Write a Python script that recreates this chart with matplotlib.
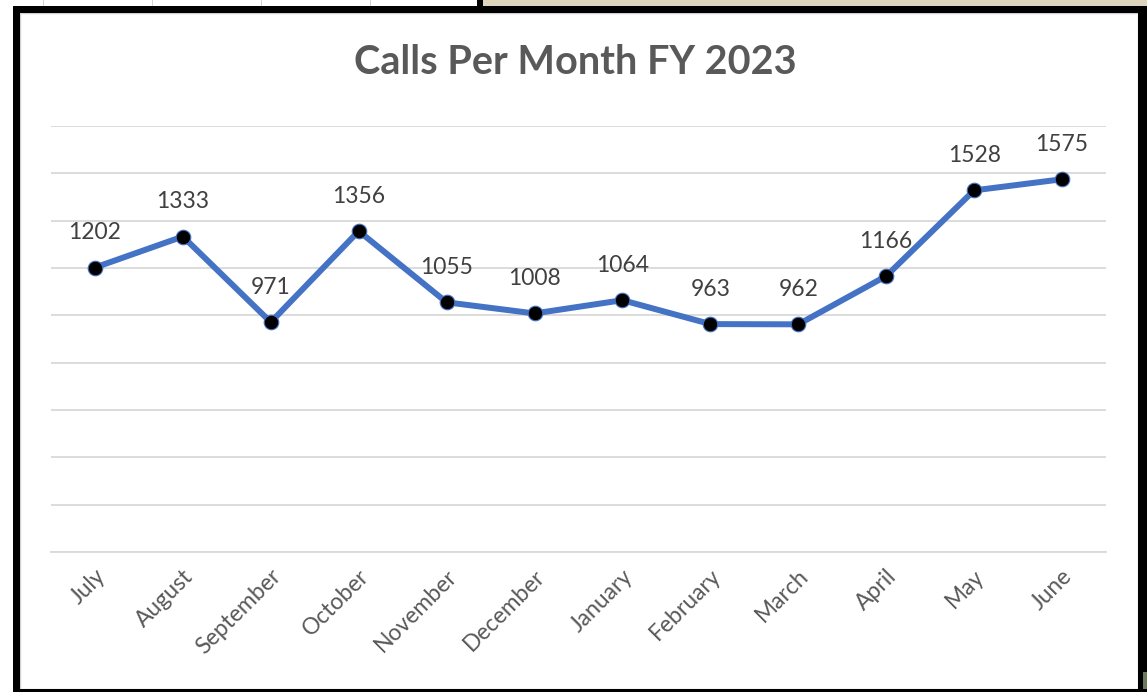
import matplotlib
matplotlib.use("Agg")
import matplotlib.pyplot as plt
from matplotlib.patches import Rectangle
import matplotlib.transforms as mtransforms

# ---- data ----
months = ["July", "August", "September", "October", "November", "December",
          "January", "February", "March", "April", "May", "June"]
calls = [1202, 1333, 971, 1356, 1055, 1008, 1064, 963, 962, 1166, 1528, 1575]
title = "Calls Per Month FY 2023"
y_max = 1800
y_step = 200

W, H = 1147, 692
fig = plt.figure(figsize=(W / 100, H / 100), dpi=100)
fig.patch.set_facecolor("white")

FONT = ["Lato", "DejaVu Sans"]


def px_rect(x0, y0, x1, y1, **kw):
    """Rectangle in pixel coordinates (origin top-left)."""
    r = Rectangle((x0 / W, 1 - y1 / H), (x1 - x0) / W, (y1 - y0) / H,
                  transform=fig.transFigure, **kw)
    fig.patches.append(r)
    return r


# ---- surrounding screenshot decoration ----
px_rect(0, 0, W, H, facecolor="white", edgecolor="none", zorder=0)
for gx in (43, 152, 261, 370):
    px_rect(gx, 0, gx + 1, 8, facecolor="#d4d4d4", edgecolor="none", zorder=1)
px_rect(483, 0, W, 8, facecolor="#ddd5bc", edgecolor="none", zorder=1)
px_rect(13, 6, W, 13, facecolor="black", edgecolor="none", zorder=2)      # top
px_rect(13, 6, 20, H, facecolor="black", edgecolor="none", zorder=2)      # left
px_rect(1138, 6, W, H, facecolor="black", edgecolor="none", zorder=2)     # right
px_rect(13, 689, W, H, facecolor="black", edgecolor="none", zorder=2)     # bottom
px_rect(477, 0, 483, 13, facecolor="black", edgecolor="none", zorder=2)   # tab notch
px_rect(1143, 672, W, 689, facecolor="#6a7a5a", edgecolor="none", zorder=3)
px_rect(20, 13, 1138, 689, facecolor="white", edgecolor="#d0d0d0", lw=1.0, zorder=1.5)

# ---- chart axes ----
x_left, x_right = 51, 1106
y_top, y_bot = 126, 552
ax = fig.add_axes([x_left / W, 1 - y_bot / H, (x_right - x_left) / W, (y_bot - y_top) / H])
ax.set_facecolor("none")
ax.set_zorder(5)

x = list(range(len(months)))
ax.plot(x, calls, color="#4472C4", lw=4.3, solid_joinstyle="round",
        solid_capstyle="round", marker="o", ms=10.5, mfc="black",
        mec="#4472C4", mew=0.8, zorder=4)

for xi, v in zip(x, calls):
    ax.annotate(str(v), (xi, v), xytext=(0, 25), textcoords="offset points",
                ha="center", va="center", fontsize=16.5, color="#404040",
                family=FONT)

ax.set_xlim(-0.5, len(months) - 0.5)
ax.set_ylim(0, y_max)
ax.set_yticks(range(0, y_max + 1, y_step))
ax.yaxis.grid(True, color="#d9d9d9", lw=1.3)
ax.set_axisbelow(True)
ax.tick_params(axis="y", left=False, labelleft=False)
for s in ("top", "right", "left"):
    ax.spines[s].set_visible(False)
ax.spines["bottom"].set_color("#d9d9d9")
ax.spines["bottom"].set_linewidth(1.3)

ax.set_xticks(x)
ax.set_xticklabels(months, rotation=45, ha="right", va="center",
                   rotation_mode="anchor", fontsize=16.5, color="#595959",
                   family=FONT)
ax.tick_params(axis="x", length=0, pad=15)
offset = mtransforms.ScaledTranslation(7 / 100, 0, fig.dpi_scale_trans)
for lab in ax.get_xticklabels():
    lab.set_transform(lab.get_transform() + offset)

fig.text(575 / W, 1 - 63 / H, title, ha="center", va="center", fontsize=28.5,
         fontweight="bold", color="#595959", family=FONT, zorder=6)

fig.savefig("out.png", dpi=100)
